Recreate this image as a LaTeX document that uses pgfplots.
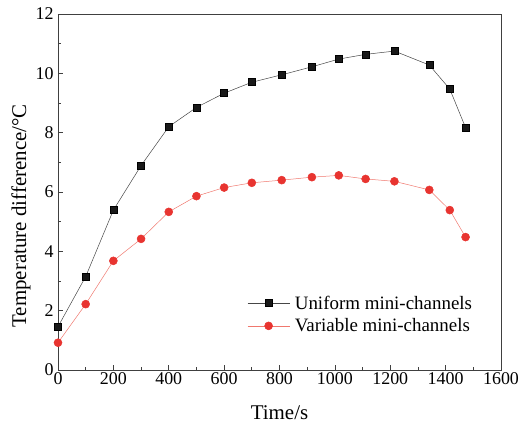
\documentclass[border=0pt]{standalone}
\usepackage{pgfplots}
\pgfplotsset{compat=1.18}
\usepackage{fontspec}
\setmainfont{Liberation Serif}
\definecolor{redm}{RGB}{232,52,48}
\definecolor{redl}{RGB}{240,120,110}
\definecolor{grayl}{RGB}{70,70,70}
\begin{document}
\begin{tikzpicture}[x=1bp,y=1bp]
\useasboundingbox (-58,-55) rectangle (461,370);
\begin{axis}[
  scale only axis,
  width=443bp, height=356bp,
  at={(0,0)}, anchor=south west,
  xmin=0, xmax=1600, ymin=0, ymax=12,
  xtick={0,200,...,1600}, ytick={0,2,...,12},
  minor x tick num=1, minor y tick num=1,
  tick align=inside,
  xtick pos=bottom, ytick pos=left,
  major tick length=5bp, minor tick length=3bp,
  axis line style={line width=0.8pt, draw=black!75},
  tick style={line width=0.7pt, black!75},
  /pgf/number format/assume math mode=true,
  /pgf/number format/1000 sep={},
  ticklabel style={font=\fontsize{18}{21}\selectfont},
  xticklabel style={yshift=1bp},
  yticklabel style={xshift=-1bp},
  xlabel={Time/s}, ylabel={Temperature difference/°C},
  xlabel style={font=\fontsize{21}{24}\selectfont, at={([yshift=-49bp]rel axis cs:0.5,0)}, anchor=base},
  ylabel style={font=\fontsize{21}{24}\selectfont, at={([xshift=-37bp]rel axis cs:0,0.433)}, anchor=center},
  legend style={draw=none, fill=none, at={(0.427,0.156)}, anchor=west,
    inner xsep=0pt, font=\fontsize{19}{22}\selectfont, row sep=4bp, column sep=3bp},
  legend cell align=left,
  legend image code/.code={\draw[#1, mark repeat=2, mark phase=2] plot coordinates {(0bp,0bp) (21bp,0bp) (42bp,0bp)};},
]
\addplot[grayl, line width=0.5pt, mark=square*, mark size=3.5bp, mark options={black, fill=black!90}] coordinates {
(0,1.46) (100,3.15) (200,5.39) (300,6.89) (400,8.20) (500,8.85) (600,9.33) (700,9.70)
(808,9.95) (917,10.22) (1014,10.48) (1111,10.64) (1215,10.75) (1341,10.28) (1415,9.47) (1472,8.17)};
\addlegendentry{Uniform mini-channels}
\addplot[redl, line width=0.5pt, mark=*, mark size=4bp, mark options={draw=redm, fill=redm}] coordinates {
(0,0.92) (100,2.22) (200,3.68) (300,4.42) (400,5.33) (500,5.86) (600,6.15) (700,6.31)
(808,6.40) (917,6.50) (1014,6.56) (1111,6.44) (1215,6.36) (1341,6.07) (1415,5.39) (1472,4.48)};
\addlegendentry{Variable mini-channels}
\end{axis}
\end{tikzpicture}
\end{document}
